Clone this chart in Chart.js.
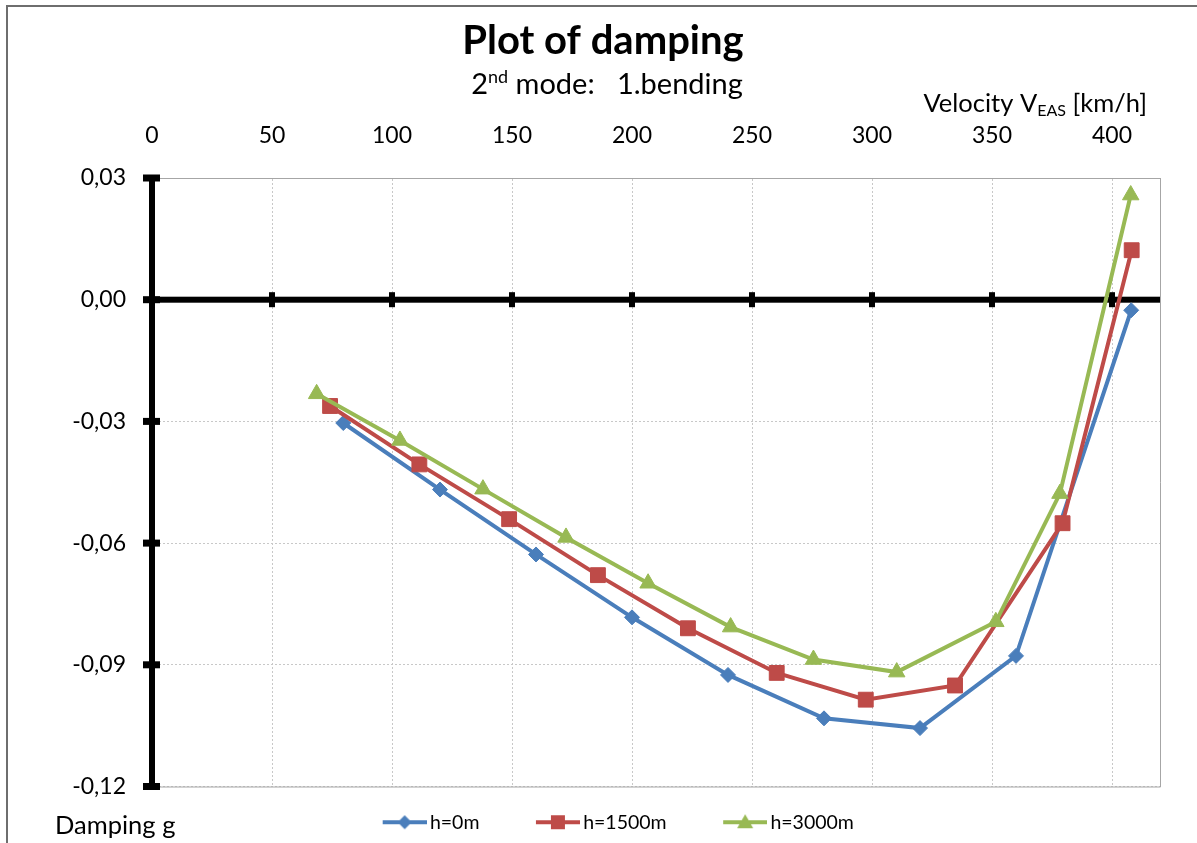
<!DOCTYPE html>
<html lang="en">
<head>
    <meta charset="UTF-8">
    <title>Plot of damping</title>
    <script src="https://cdn.jsdelivr.net/npm/chart.js"></script>
    <style>
        html, body { margin: 0; padding: 0; overflow: hidden; background: #fff; }
        #frame { position: absolute; left: 6px; top: 5px; width: 1400px; height: 1000px; border: 2px solid #6e6e6e; }
        #wrap { position: absolute; left: 0; top: 0; width: 1197px; height: 843px; }
    </style>
</head>
<body>
    <div id="frame"></div>
    <div id="wrap"><canvas id="dampingChart"></canvas></div>
    <script>
        // velocity V_EAS [km/h] and damping g
        const seriesNames = ['h=0m', 'h=1500m', 'h=3000m'];

        const v0 = [79.7, 120, 160, 200, 240, 280, 320, 360, 408];
        const g0 = [-0.0304, -0.0468, -0.0628, -0.0783, -0.0925, -0.1032, -0.1056, -0.0878, -0.0026];

        const v1500 = [74.2, 111.4, 148.8, 185.8, 223.3, 260.3, 297.4, 334.6, 379.4, 408.2];
        const g1500 = [-0.0262, -0.0406, -0.0541, -0.0679, -0.0810, -0.0920, -0.0986, -0.0951, -0.0551, 0.0122];

        const v3000 = [68.6, 103.3, 137.9, 172.5, 206.7, 241.1, 275.6, 310.3, 351.6, 378.3, 407.8];
        const g3000 = [-0.0232, -0.0347, -0.0467, -0.0586, -0.0699, -0.0807, -0.0887, -0.0918, -0.0794, -0.0478, 0.0258];

        const xMin = 0, xMax = 420, xStep = 50;
        const yMin = -0.12, yMax = 0.03, yStep = 0.03;

        const colors = ['#4A7EBB', '#BE4B48', '#98B954'];
        const shapes = ['rectRot', 'rect', 'triangle'];

        const toPoints = (xs, ys) => xs.map((x, i) => ({ x: x, y: ys[i] }));

        // small picture for the legend: line with the marker in the middle
        function legendIcon(color, shape) {
            const c = document.createElement('canvas');
            c.width = 81; c.height = 20;
            const g = c.getContext('2d');
            g.strokeStyle = color;
            g.lineWidth = 4;
            g.beginPath(); g.moveTo(81 - 44, 10); g.lineTo(81, 10); g.stroke();
            const cx = 81 - 22, cy = 10;
            g.fillStyle = color;
            g.beginPath();
            if (shape === 'rectRot') {
                g.moveTo(cx, cy - 7); g.lineTo(cx + 7, cy); g.lineTo(cx, cy + 7); g.lineTo(cx - 7, cy);
            } else if (shape === 'rect') {
                g.rect(cx - 7, cy - 7, 14, 14);
            } else {
                g.moveTo(cx, cy - 8); g.lineTo(cx + 8, cy + 6); g.lineTo(cx - 8, cy + 6);
            }
            g.closePath(); g.fill();
            return c;
        }

        // plot frame, zero line and the crossing tick marks
        const axisDeco = {
            id: 'axisDeco',
            beforeDatasetsDraw(chart) {
                const { ctx, chartArea: a, scales } = chart;
                ctx.save();
                ctx.strokeStyle = '#a6a6a6';
                ctx.lineWidth = 1;
                ctx.beginPath();
                ctx.moveTo(a.left, a.top + 0.5); ctx.lineTo(a.right + 0.5, a.top + 0.5);
                ctx.lineTo(a.right + 0.5, a.bottom + 0.5); ctx.lineTo(a.left, a.bottom + 0.5);
                ctx.stroke();

                ctx.fillStyle = '#000';
                const y0 = scales.y.getPixelForValue(0);
                ctx.fillRect(a.left, y0 - 3, a.right - a.left, 6);
                scales.x.ticks.forEach(t => {
                    if (t.value <= 0) return;
                    const px = scales.x.getPixelForValue(t.value);
                    ctx.fillRect(px - 3, y0 - 7.5, 6, 15);
                });
                scales.y.ticks.forEach(t => {
                    const py = scales.y.getPixelForValue(t.value);
                    ctx.fillRect(a.left - 9, py - 3.5, 17, 7);
                });
                ctx.restore();
            },
            afterDraw(chart) {
                const ctx = chart.ctx;
                ctx.save();
                ctx.fillStyle = '#000';
                ctx.textBaseline = 'alphabetic';

                // subtitle with superscript
                const big = '29px Lato', sup = '18px Lato';
                ctx.font = big; const w1 = ctx.measureText('2').width;
                ctx.font = sup; const w2 = ctx.measureText('nd').width;
                ctx.font = big; const w3 = ctx.measureText(' mode:   1.bending').width;
                let x = 607 - (w1 + w2 + w3) / 2;
                const base = 94;
                ctx.textAlign = 'left';
                ctx.font = big; ctx.fillText('2', x, base); x += w1;
                ctx.font = sup; ctx.fillText('nd', x, base - 11); x += w2;
                ctx.font = big; ctx.fillText(' mode:   1.bending', x, base);

                // axis title with subscript
                const f = '25.5px Lato', sub = '16px Lato';
                ctx.font = f; const a1 = ctx.measureText('Velocity V').width;
                ctx.font = sub; const a2 = ctx.measureText('EAS').width;
                ctx.font = f; const a3 = ctx.measureText(' [km/h]').width;
                x = 1147 - (a1 + a2 + a3);
                const b2 = 112;
                ctx.font = f; ctx.fillText('Velocity V', x, b2); x += a1;
                ctx.font = sub; ctx.fillText('EAS', x, b2 + 4); x += a2;
                ctx.font = f; ctx.fillText(' [km/h]', x, b2);

                ctx.font = '25.5px Lato';
                ctx.fillText('Damping g', 55, 834);
                ctx.restore();
            }
        };

        const gridColor = '#c8c8c8';
        const fmt = v => v.toFixed(2).replace('.', ',');

        new Chart(document.getElementById('dampingChart'), {
            type: 'line',
            data: {
                datasets: [
                    { label: seriesNames[0], data: toPoints(v0, g0), order: 3 },
                    { label: seriesNames[1], data: toPoints(v1500, g1500), order: 2 },
                    { label: seriesNames[2], data: toPoints(v3000, g3000), order: 1 }
                ].map((d, i) => Object.assign(d, {
                    borderColor: colors[i],
                    backgroundColor: colors[i],
                    pointBackgroundColor: colors[i],
                    pointBorderColor: colors[i],
                    pointStyle: shapes[i],
                    pointRadius: [7.5, 10.5, 9.5][i],
                    pointHoverRadius: [7.5, 10.5, 9.5][i],
                    pointBorderWidth: 1,
                    borderWidth: 4,
                    tension: 0
                }))
            },
            options: {
                responsive: true,
                maintainAspectRatio: false,
                animation: false,
                layout: { padding: { left: 46, right: 37, top: 0, bottom: 1 } },
                plugins: {
                    title: {
                        display: true,
                        text: 'Plot of damping',
                        color: '#000',
                        font: { family: 'Lato', size: 40, weight: 'bold' },
                        padding: { top: 17, bottom: 0 }
                    },
                    legend: {
                        position: 'bottom',
                        labels: {
                            usePointStyle: true,
                            pointStyleWidth: 68,
                            padding: 26,
                            color: '#000',
                            font: { family: 'Lato', size: 19.5 },
                            generateLabels: chart => chart.data.datasets.map((d, i) => ({
                                text: d.label,
                                fillStyle: colors[i],
                                strokeStyle: colors[i],
                                lineWidth: 0,
                                fontColor: '#000',
                                pointStyle: legendIcon(colors[i], shapes[i]),
                                hidden: false,
                                datasetIndex: i
                            }))
                        }
                    },
                    tooltip: { enabled: false }
                },
                scales: {
                    x: {
                        type: 'linear',
                        position: 'top',
                        min: xMin, max: xMax,
                        afterFit: s => { s.height = 113; },
                        ticks: {
                            stepSize: xStep,
                            includeBounds: false,
                            padding: 29,
                            color: '#000',
                            font: { family: 'Lato', size: 23 },
                            maxRotation: 0
                        },
                        grid: { color: gridColor, lineWidth: 1, drawTicks: false },
                        border: { display: true, color: '#a6a6a6', width: 1, dash: [2, 2] }
                    },
                    y: {
                        type: 'linear',
                        min: yMin, max: yMax,
                        afterFit: s => { s.width = 106; },
                        ticks: {
                            stepSize: yStep,
                            padding: 26,
                            color: '#000',
                            font: { family: 'Lato', size: 23 },
                            callback: fmt
                        },
                        grid: { color: gridColor, lineWidth: 1, drawTicks: false },
                        border: { display: true, color: '#000', width: 6, dash: [2, 2] }
                    }
                }
            },
            plugins: [axisDeco]
        });
    </script>
</body>
</html>
